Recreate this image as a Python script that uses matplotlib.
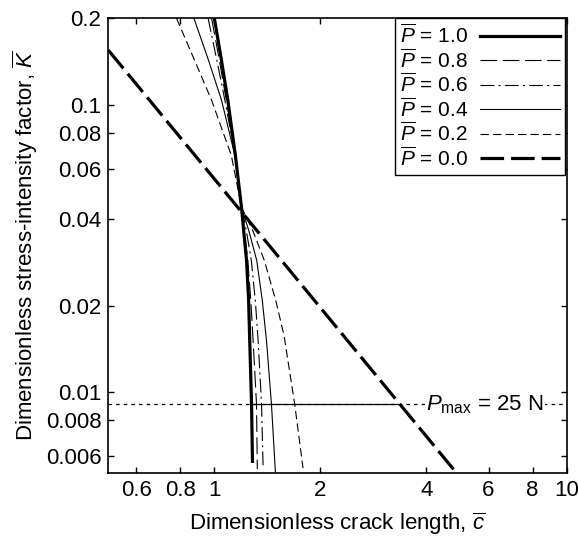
import numpy as np
import matplotlib
matplotlib.use("Agg")
import matplotlib.pyplot as plt
from matplotlib.lines import Line2D

plt.rcParams['font.family'] = ['Liberation Sans', 'DejaVu Sans']
plt.rcParams['mathtext.fontset'] = 'custom'
plt.rcParams['mathtext.rm'] = 'Liberation Sans'
plt.rcParams['mathtext.it'] = 'Liberation Sans:italic'
plt.rcParams['lines.scale_dashes'] = False

# ---------------- data ----------------
labels = ['1.0', '0.8', '0.6', '0.4', '0.2', '0.0']

c_10 = [1.0, 1.047, 1.092, 1.147, 1.194, 1.211, 1.234, 1.251, 1.260, 1.275, 1.283]
k_10 = [0.2, 0.1432, 0.1038, 0.0668, 0.0440, 0.0366, 0.0288, 0.02087, 0.01514, 0.00913, 0.00569]

c_08 = [0.982, 1.033, 1.081, 1.151, 1.194, 1.216, 1.244, 1.269, 1.288, 1.317, 1.324]
k_08 = [0.2, 0.1432, 0.1038, 0.0668, 0.0440, 0.0366, 0.0288, 0.02087, 0.01514, 0.00913, 0.00542]

c_06 = [0.960, 1.016, 1.071, 1.145, 1.194, 1.232, 1.273, 1.307, 1.331, 1.361, 1.375]
k_06 = [0.2, 0.1432, 0.1038, 0.0668, 0.0440, 0.0366, 0.0288, 0.02087, 0.01514, 0.00913, 0.00555]

c_04 = [0.875, 0.962, 1.048, 1.143, 1.194, 1.252, 1.319, 1.368, 1.406, 1.452, 1.490]
k_04 = [0.2, 0.1432, 0.1038, 0.0668, 0.0440, 0.0366, 0.0288, 0.02087, 0.01514, 0.00913, 0.00529]

c_02 = [0.781, 0.878, 0.982, 1.117, 1.194, 1.285, 1.386, 1.494, 1.577, 1.690, 1.785]
k_02 = [0.2, 0.1432, 0.1038, 0.0668, 0.0440, 0.0366, 0.0288, 0.02087, 0.01576, 0.00913, 0.00546]

c_00 = [0.5, 4.9]
k_00 = [0.155, 0.0052]

k_pmax = 0.0091
c_pmax = [1.275, 3.36]

xticks = [0.6, 0.8, 1, 2, 4, 6, 8, 10]
xtick_labels = ['0.6', '0.8', '1', '2', '4', '6', '8', '10']
yticks = [0.006, 0.008, 0.01, 0.02, 0.04, 0.06, 0.08, 0.1, 0.2]
ytick_labels = ['0.006', '0.008', '0.01', '0.02', '0.04', '0.06', '0.08', '0.1', '0.2']

# ---------------- figure ----------------
fig = plt.figure(figsize=(5.78, 5.40), dpi=100)
ax = fig.add_axes([0.1874, 0.1241, 0.9804 - 0.1874, 0.9661 - 0.1241])

thin = 0.8
thick = 2.3
ax.plot(c_10, k_10, color='k', lw=thick, solid_capstyle='butt')
ax.plot(c_08, k_08, color='k', lw=thin, dashes=(12, 4))
ax.plot(c_06, k_06, color='k', lw=thin, dashes=(10, 3, 1.5, 3))
ax.plot(c_04, k_04, color='k', lw=thin)
ax.plot(c_02, k_02, color='k', lw=thin, dashes=(6, 3))
ax.plot(c_00, k_00, color='k', lw=thick, dashes=(17, 5))

# P_max line: dotted across, solid between the P=1.0 and P=0.0 curves
ax.axhline(k_pmax, color='k', lw=0.9, dashes=(2.5, 3))
ax.plot(c_pmax, [k_pmax, k_pmax], color='k', lw=0.9)
ax.text(5.86, k_pmax, r'$P_{\mathrm{max}}$ = 25 N', fontsize=16, ha='center', va='center',
        bbox=dict(facecolor='white', edgecolor='none', pad=1))

ax.set_xscale('log')
ax.set_yscale('log')
ax.set_xlim(0.5, 10)
ax.set_ylim(0.00525, 0.2)
ax.set_xticks(xticks)
ax.set_xticklabels(xtick_labels)
ax.set_yticks(yticks)
ax.set_yticklabels(ytick_labels)
ax.minorticks_off()
ax.tick_params(direction='in', length=4, width=1, top=True, right=True, labelsize=16, pad=5)
for s in ax.spines.values():
    s.set_linewidth(1.2)

ax.set_xlabel(r'Dimensionless crack length, $\overline{c}$', fontsize=16, labelpad=7)
ax.set_ylabel(r'Dimensionless stress-intensity factor, $\overline{K}$', fontsize=16, labelpad=4)

handles = [
    Line2D([], [], color='k', lw=thick),
    Line2D([], [], color='k', lw=thin, dashes=(12, 4)),
    Line2D([], [], color='k', lw=thin, dashes=(10, 3, 1.5, 3)),
    Line2D([], [], color='k', lw=thin),
    Line2D([], [], color='k', lw=thin, dashes=(6, 3)),
    Line2D([], [], color='k', lw=thick, dashes=(17, 5)),
]
leg_labels = [r'$\overline{P}$ = ' + v for v in labels]
leg = ax.legend(handles, leg_labels, loc='upper right', bbox_to_anchor=(0.996, 1.0),
                borderaxespad=0, fontsize=15, markerfirst=False, handlelength=3.8,
                labelspacing=0.05, fancybox=False, edgecolor='k', framealpha=1,
                borderpad=0.25, handletextpad=0.6)
leg.get_frame().set_linewidth(1.0)

fig.savefig('out.png', dpi=100)
